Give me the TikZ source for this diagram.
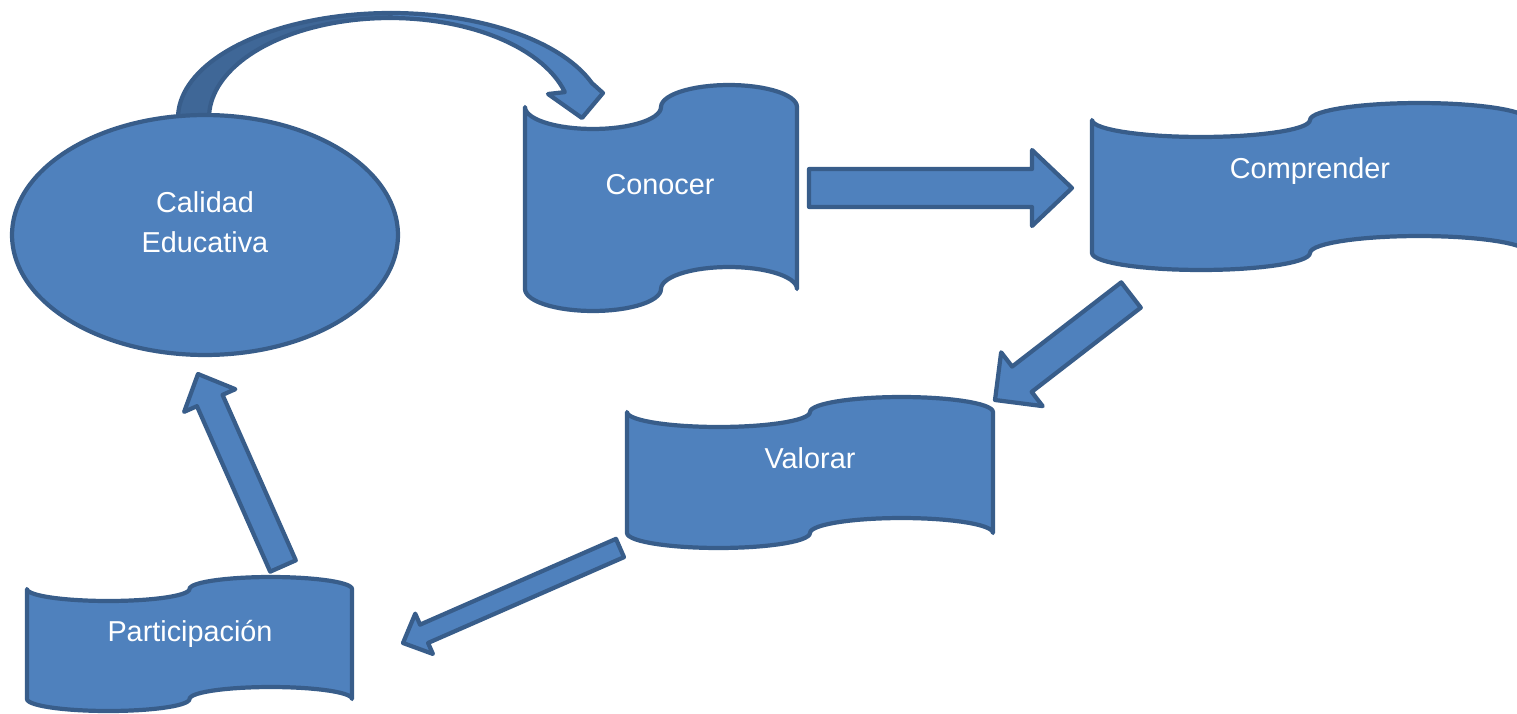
\documentclass[tikz,border=0pt]{standalone}
\usepackage{fontspec}
\setmainfont{Liberation Sans}
\definecolor{BoxBlue}{RGB}{79, 129, 189}
\definecolor{EdgeBlue}{RGB}{56, 93, 138}
\definecolor{ShadeBlue}{RGB}{63, 103, 151}
\usetikzlibrary{calc, shapes.geometric}

\tikzset{
  wave/.style={fill=BoxBlue, draw=EdgeBlue, line width=2.4pt, line join=round},
  barrow/.style={fill=BoxBlue, draw=EdgeBlue, line width=2.4pt, line join=round},
  txt/.style={text=white, font=\fontsize{16.4pt}{22.7pt}\selectfont, align=center}
}

% banner: left x, corner y, width, height, amplitude
\newcommand{\wavebox}[5]{%
  \draw[wave]
    plot[domain=180:0, samples=30, variable=\t] ({#1+#3/4+#3/4*cos(\t)},{#2+#5*sin(\t)})
    -- plot[domain=180:360, samples=30, variable=\t] ({#1+3*#3/4+#3/4*cos(\t)},{#2+#5*sin(\t)})
    -- plot[domain=360:180, samples=30, variable=\t] ({#1+3*#3/4+#3/4*cos(\t)},{#2+#4+#5*sin(\t)})
    -- plot[domain=0:180, samples=30, variable=\t] ({#1+#3/4+#3/4*cos(\t)},{#2+#4+#5*sin(\t)})
    -- cycle;}

% block arrow: tail, tip, half shaft, half head, head length
\newcommand{\blockarrow}[5]{%
  \coordinate (hb) at ($(#2)!#5!(#1)$);
  \draw[barrow] ($(#1)!#3!90:(#2)$) -- ($(hb)!#3!90:(#2)$) -- ($(hb)!#4!90:(#2)$) -- (#2)
    -- ($(hb)!#4!-90:(#2)$) -- ($(hb)!#3!-90:(#2)$) -- ($(#1)!#3!-90:(#2)$) -- cycle;}

\begin{document}
\begin{tikzpicture}[x=0.02cm, y=-0.02cm]
    \useasboundingbox (0,0) rectangle (1517,713);
    \clip (0,0) rectangle (1517,713);

    % Curved arrow, back part
    \draw[fill=ShadeBlue, draw=EdgeBlue, line width=2.4pt, line join=round]
      plot[domain=180:270, samples=40, variable=\t] ({391+213*cos(\t)},{118+105*sin(\t)})
      -- plot[domain=270:180, samples=40, variable=\t] ({390+181*cos(\t)},{118+100*sin(\t)}) -- cycle;
    % Curved arrow, front part and head
    \draw[barrow]
      plot[domain=270:340.5, samples=30, variable=\t] ({391+213*cos(\t)},{118+105*sin(\t)})
      -- (603,93) -- (582,118) -- (548,94)
      -- plot[domain=345:270, samples=30, variable=\t] ({390+181*cos(\t)},{118+100*sin(\t)}) -- cycle;

    % Calidad Educativa
    \node[ellipse, fill=BoxBlue, draw=EdgeBlue, line width=2.4pt, minimum width=7.72cm,
          minimum height=4.8cm, inner sep=0pt] (calidad) at (205,235) {};
    \node[txt] (calidadtxt) at (205,222) {Calidad\\Educativa};

    % Banners
    \wavebox{525}{107}{272}{182}{22}
    \node[txt] (conocer) at (660,185) {Conocer};

    \wavebox{1092}{120}{436}{133}{17}
    \node[txt] (comprender) at (1310,171) {Comprender};

    \wavebox{627}{412}{366}{121}{15}
    \node[txt] (valorar) at (810,458) {Valorar};

    \wavebox{27}{589}{325}{110}{12}
    \node[txt] (participacion) at (190,634) {Participación};

    % Block arrows
    \coordinate (a1t) at (809,188);  \coordinate (a1p) at (1072,188);
    \coordinate (a2t) at (1131,295); \coordinate (a2p) at (995,400);
    \coordinate (a3t) at (620,548);  \coordinate (a3p) at (403,643);
    \coordinate (a4t) at (283,566);  \coordinate (a4p) at (198,374);

    \blockarrow{a1t}{a1p}{0.38cm}{0.76cm}{0.80cm}
    \blockarrow{a2t}{a2p}{0.32cm}{0.68cm}{0.68cm}
    \blockarrow{a3t}{a3p}{0.20cm}{0.44cm}{0.46cm}
    \blockarrow{a4t}{a4p}{0.28cm}{0.56cm}{0.58cm}
\end{tikzpicture}
\end{document}
